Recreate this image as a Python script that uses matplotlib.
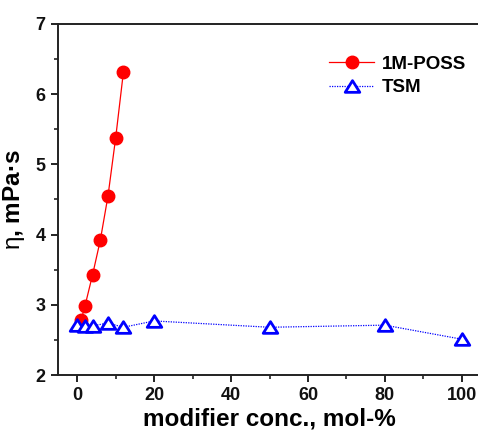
import matplotlib
matplotlib.use("Agg")
import matplotlib.pyplot as plt
from matplotlib.ticker import MultipleLocator
from matplotlib.path import Path

plt.rcParams['font.family'] = ['Liberation Sans', 'DejaVu Sans']
plt.rcParams['font.weight'] = 'bold'
plt.rcParams['mathtext.fontset'] = 'custom'
plt.rcParams['mathtext.rm'] = 'Liberation Sans:normal'

# viscosity vs modifier concentration
poss_conc = [1, 2, 4, 6, 8, 10, 12]
poss_visc = [2.78, 2.98, 3.43, 3.92, 4.55, 5.38, 6.31]

tsm_conc = [0, 2, 4, 8, 12, 20, 50, 80, 100]
tsm_visc = [2.71, 2.70, 2.70, 2.74, 2.68, 2.77, 2.68, 2.71, 2.51]

x_ticks = [0, 20, 40, 60, 80, 100]
y_ticks = [2, 3, 4, 5, 6, 7]

# a slightly squat open triangle
tri = Path([(0, 0.8), (-1, -0.8), (1, -0.8), (0, 0.8)],
           [Path.MOVETO, Path.LINETO, Path.LINETO, Path.CLOSEPOLY])

fig = plt.figure(figsize=(4.78, 4.30), dpi=100)
ax = fig.add_axes([58 / 478, 1 - 375 / 430, (481 - 58) / 478, (375 - 24) / 430])

ax.plot(poss_conc, poss_visc, color='red', lw=0.9, marker='o', ms=9,
        mec='red', mfc='red', label='1M-POSS', zorder=3)
ax.plot(tsm_conc, tsm_visc, color='blue', lw=0.9, ls=(0, (1, 1)), marker=tri,
        ms=10.5, mec='blue', mfc='white', mew=2.0, label='TSM', zorder=4)

ax.set_xlim(-5, 105)
ax.set_ylim(2, 7)
ax.set_xticks(x_ticks)
ax.set_yticks(y_ticks)
ax.xaxis.set_minor_locator(MultipleLocator(10))
ax.yaxis.set_minor_locator(MultipleLocator(0.5))

for s in ax.spines.values():
    s.set_linewidth(1.4)
    s.set_color('#222222')

ax.tick_params(which='major', direction='out', length=5, width=1.3,
               labelsize=13, pad=4, colors='#111111')
ax.tick_params(which='minor', direction='out', length=3, width=1.1,
               colors='#111111')

ax.set_xlabel('modifier conc., mol-%', fontsize=17.5, fontweight='bold',
              labelpad=2)
ax.set_ylabel(r'$\mathrm{\eta}$, mPa·s', fontsize=17.5, fontweight='bold',
              labelpad=6)

leg = ax.legend(loc='upper right', bbox_to_anchor=(1.005, 0.958), frameon=False,
                prop={'weight': 'bold', 'size': 13.5}, handlelength=2.4,
                handletextpad=0.4, labelspacing=0.35)

fig.savefig('out.png', dpi=100)
